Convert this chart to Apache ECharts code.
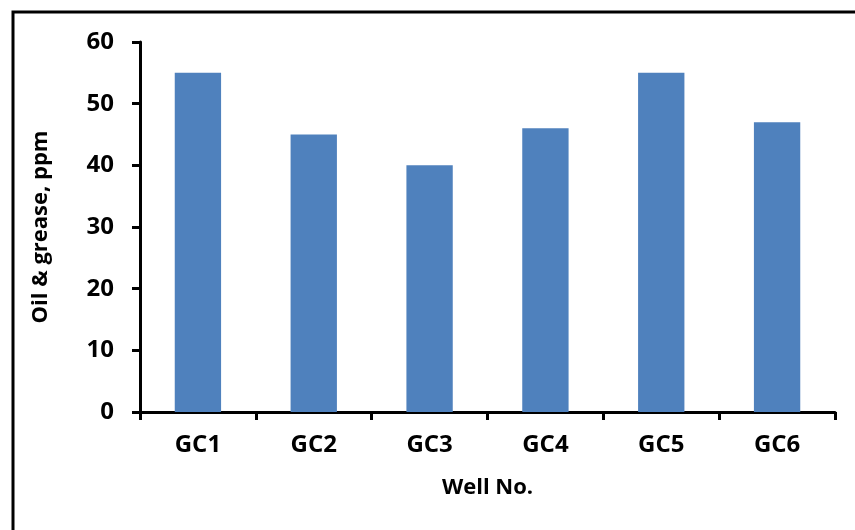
<!DOCTYPE html>
<html>
<head>
<meta charset="utf-8">
<script src="https://cdn.jsdelivr.net/npm/echarts@6/dist/echarts.min.js"></script>
<style>
html,body{margin:0;padding:0;background:#fff;}
#c{width:855px;height:530px;}
</style>
</head>
<body>
<div id="c"></div>
<script>
const categories = ['GC1', 'GC2', 'GC3', 'GC4', 'GC5', 'GC6'];
const oilGrease = [55, 45, 40, 46, 55, 47];
const yAxisName = 'Oil & grease, ppm';
const xAxisName = 'Well No.';

const chart = echarts.init(document.getElementById('c'), null, {renderer: 'canvas'});
const font = '"Open Sans", sans-serif';
chart.setOption({
  animation: false,
  backgroundColor: '#ffffff',
  graphic: [{
    type: 'rect',
    shape: {x: 13, y: 12, width: 900, height: 600},
    style: {fill: 'none', stroke: '#000', lineWidth: 3},
    silent: true
  }],
  grid: {left: 140, right: 20, top: 42, bottom: 118},
  xAxis: {
    type: 'category',
    data: categories,
    name: xAxisName,
    nameLocation: 'middle',
    nameGap: 65,
    nameTextStyle: {fontFamily: font, fontWeight: 'bold', fontSize: 22, color: '#000'},
    axisLine: {lineStyle: {color: '#000', width: 3}},
    axisTick: {show: true, length: 8, lineStyle: {color: '#000', width: 3}},
    axisLabel: {fontFamily: font, fontWeight: 'bold', fontSize: 24, color: '#000', margin: 21}
  },
  yAxis: {
    type: 'value',
    min: 0, max: 60, interval: 10,
    name: yAxisName,
    nameLocation: 'middle',
    nameGap: 88,
    nameTextStyle: {fontFamily: font, fontWeight: 'bold', fontSize: 22, color: '#000'},
    axisLine: {show: true, lineStyle: {color: '#000', width: 3}},
    axisTick: {show: true, length: 8, lineStyle: {color: '#000', width: 3}},
    axisLabel: {fontFamily: font, fontWeight: 'bold', fontSize: 24, color: '#000', margin: 26},
    splitLine: {show: false}
  },
  series: [{
    type: 'bar',
    data: oilGrease,
    barWidth: '40%',
    itemStyle: {color: '#4F81BD'}
  }]
});
</script>
</body>
</html>
